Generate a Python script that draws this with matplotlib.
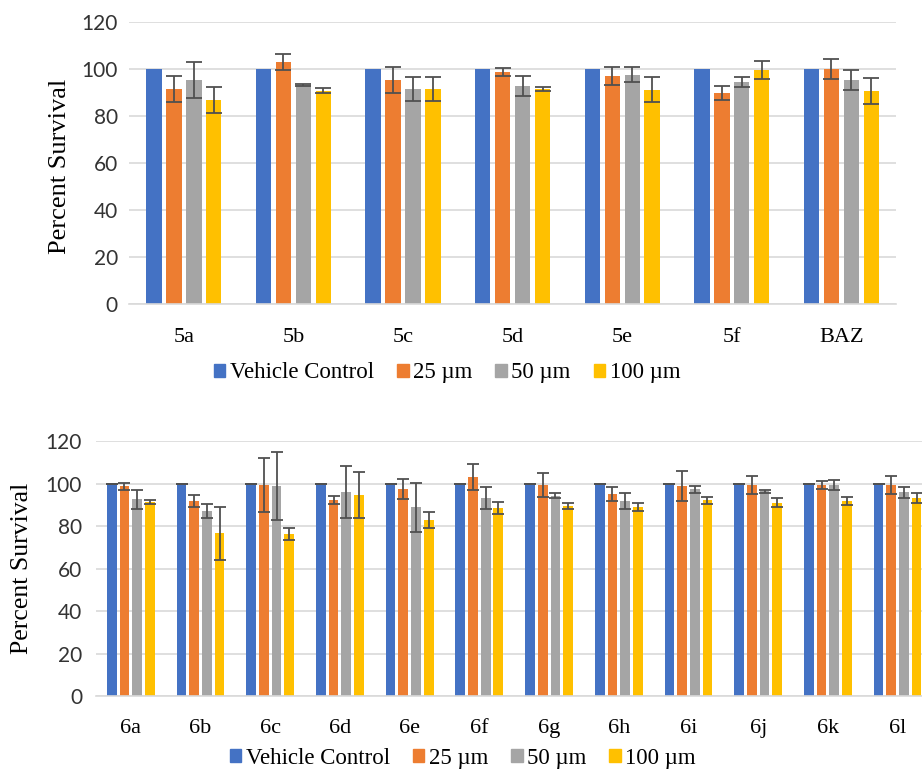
import numpy as np
import matplotlib
matplotlib.use('Agg')
import matplotlib.pyplot as plt
from matplotlib.patches import Patch

# series labels and colours
series = ['Vehicle Control', '25 \u00b5m', '50 \u00b5m', '100 \u00b5m']
colors = ['#4472C4', '#ED7D31', '#A5A5A5', '#FFC000']

# top panel (compounds 5a-5f, BAZ)
cats_top = ['5a', '5b', '5c', '5d', '5e', '5f', 'BAZ']
vc_top = [100, 100, 100, 100, 100, 100, 100]
p25_top = [91.5, 103.1, 95.3, 98.9, 97.0, 89.8, 99.9]
p25_top_err = [5.4, 3.4, 5.5, 1.7, 4.0, 3.0, 4.3]
p50_top = [95.3, 93.3, 91.5, 92.8, 97.6, 94.5, 95.3]
p50_top_err = [7.6, 0.4, 5.2, 4.4, 3.3, 2.0, 4.2]
p100_top = [86.7, 90.8, 91.5, 91.4, 91.1, 99.6, 90.5]
p100_top_err = [5.5, 1.0, 5.3, 0.8, 5.3, 3.9, 5.5]

# bottom panel (compounds 6a-6l)
cats_bot = ['6a', '6b', '6c', '6d', '6e', '6f', '6g', '6h', '6i', '6j', '6k', '6l']
vc_bot = [100] * 12
vc_bot_err = [0] * 12
p25_bot = [98.7, 91.8, 99.3, 92.4, 97.4, 103.2, 99.3, 95.1, 98.7, 99.3, 99.3, 99.3]
p25_bot_err = [1.7, 3.0, 12.5, 1.8, 4.7, 6.0, 5.8, 3.3, 7.0, 4.3, 1.7, 4.3]
p50_bot = [92.6, 87.2, 98.7, 95.9, 88.8, 93.2, 94.3, 91.8, 97.3, 96.3, 99.3, 95.9]
p50_bot_err = [4.5, 3.4, 16.0, 12.2, 11.5, 5.1, 1.1, 3.8, 1.7, 0.8, 2.3, 2.5]
p100_bot = [91.3, 76.7, 76.3, 94.6, 82.9, 88.5, 89.4, 88.8, 92.2, 91.0, 91.8, 93.2]
p100_bot_err = [0.8, 12.4, 2.7, 10.7, 3.7, 2.9, 1.5, 1.9, 1.7, 2.1, 1.8, 2.4]

serif = 'Liberation Serif'
sans = 'Lato'
grid_col = '#d9d9d9'
err_col = '#505050'


def draw_panel(ax, cats, vals, errs, capsize):
    x = np.arange(len(cats))
    pitch = 0.182
    width = 0.14
    for i, (v, e) in enumerate(zip(vals, errs)):
        pos = x + (i - 1.5) * pitch
        ax.bar(pos, v, width, color=colors[i], zorder=2)
        if e is not None:
            ax.errorbar(pos, v, yerr=e, fmt='none', ecolor=err_col,
                        elinewidth=1.3, capsize=capsize, capthick=1.3, zorder=3)
    ax.set_xlim(-0.5, len(cats) - 0.5)
    ax.set_ylim(0, 120)
    ax.set_yticks(range(0, 121, 20))
    ax.set_xticks(x)
    ax.set_xticklabels(cats, fontsize=16, family=serif)
    for lab in ax.get_yticklabels():
        lab.set_family(sans)
        lab.set_fontsize(15)
        lab.set_color('#333333')
    ax.grid(axis='y', color=grid_col, linewidth=1.2, zorder=0)
    ax.set_axisbelow(True)
    for s in ['top', 'right', 'left']:
        ax.spines[s].set_visible(False)
    ax.spines['bottom'].set_color(grid_col)
    ax.spines['bottom'].set_linewidth(1.2)
    ax.tick_params(axis='both', length=0)


fig = plt.figure(figsize=(9.22, 7.69), dpi=100)

ax1 = fig.add_axes([0.140, 0.6047, 0.832, 0.3667])
draw_panel(ax1, cats_top, [vc_top, p25_top, p50_top, p100_top],
           [None, p25_top_err, p50_top_err, p100_top_err], capsize=5.5)
ax1.tick_params(axis='y', pad=8)
ax1.tick_params(axis='x', pad=17)

ax2 = fig.add_axes([0.1041, 0.0945, 0.9072, 0.332])
draw_panel(ax2, cats_bot, [vc_bot, p25_bot, p50_bot, p100_bot],
           [vc_bot_err, p25_bot_err, p50_bot_err, p100_bot_err], capsize=4)
ax2.tick_params(axis='y', pad=10)
ax2.tick_params(axis='x', pad=16)

fig.text(0.065, 0.784, 'Percent Survival', rotation=90, ha='center', va='center',
         fontsize=19, family=serif)
fig.text(0.024, 0.261, 'Percent Survival', rotation=90, ha='center', va='center',
         fontsize=18.5, family=serif)

handles = [Patch(color=c) for c in colors]
for yc, xc in [(0.515, 0.485), (0.014, 0.502)]:
    fig.legend(handles, series, loc='center', bbox_to_anchor=(xc, yc), ncol=4,
               frameon=False, prop={'family': serif, 'size': 16.5},
               handlelength=0.5, handleheight=0.5, handletextpad=0.2,
               columnspacing=1.0, borderaxespad=0)

fig.savefig('out.png', dpi=100)
